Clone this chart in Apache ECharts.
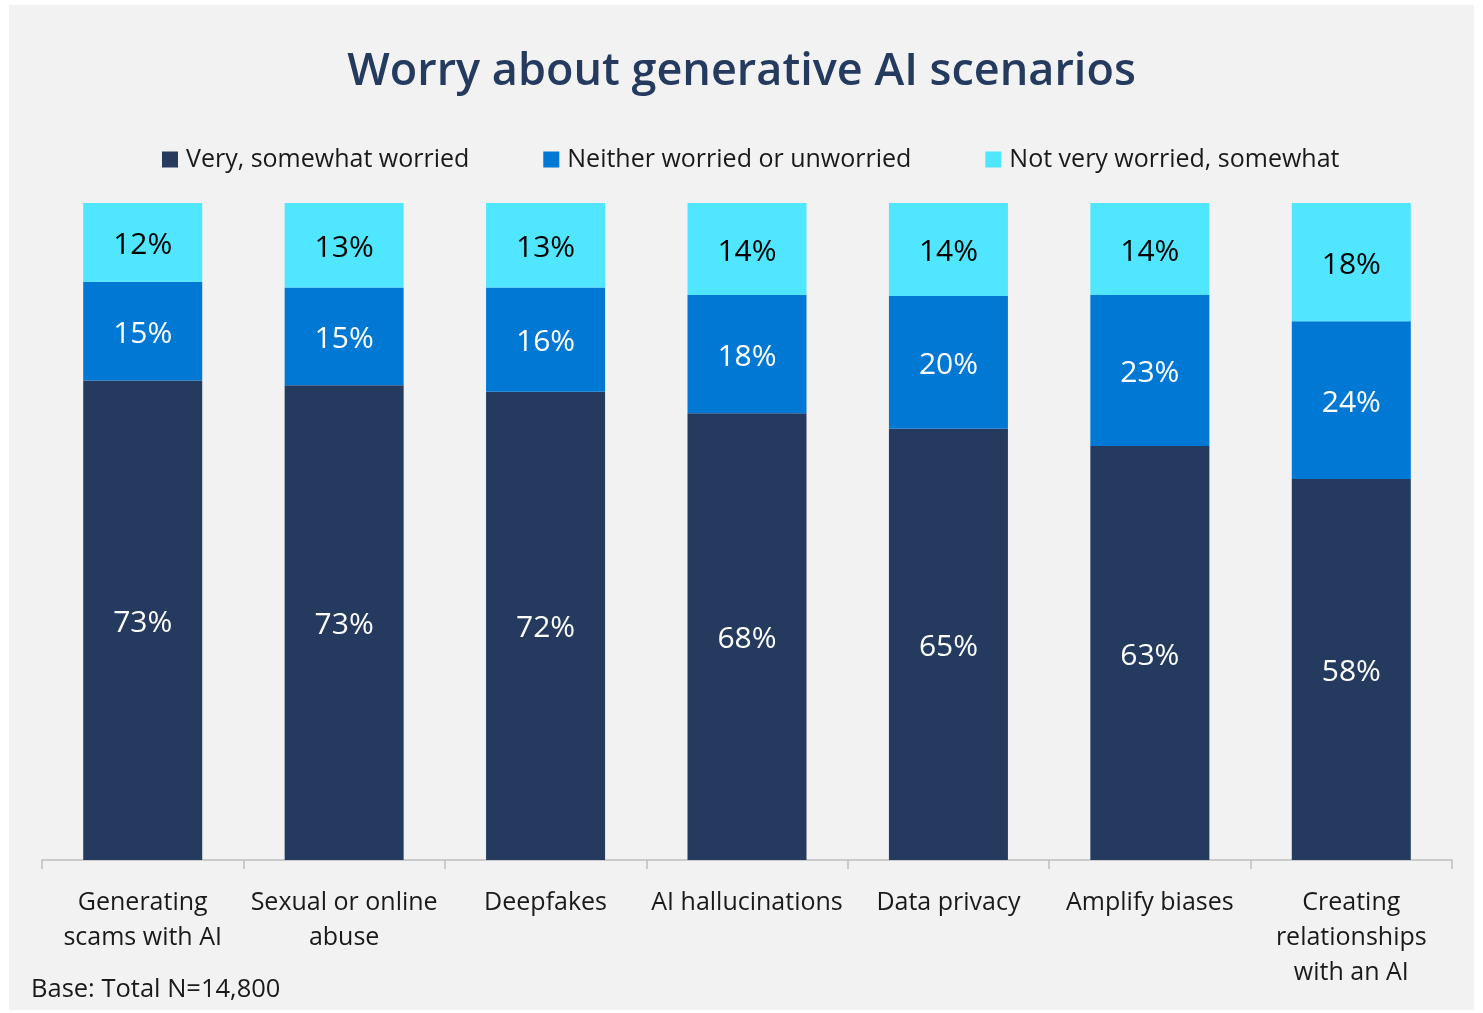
<!DOCTYPE html>
<html>
<head>
<meta charset="utf-8">
<script src="https://cdn.jsdelivr.net/npm/echarts@6/dist/echarts.min.js"></script>
<style>
  html, body { margin: 0; padding: 0; background: #fff; }
  #chart { width: 1483px; height: 1013px; }
</style>
</head>
<body>
<div id="chart"></div>
<script>
  const categories = [
    'Generating\nscams with AI',
    'Sexual or online\nabuse',
    'Deepfakes',
    'AI hallucinations',
    'Data privacy',
    'Amplify biases',
    'Creating\nrelationships\nwith an AI',
  ];
  const worried = [73, 73, 72, 68, 65, 63, 58];
  const neither = [15, 15, 16, 18, 20, 23, 24];
  const notWorried = [12, 13, 13, 14, 14, 14, 18];

  const FONT = '"Open Sans", "Noto Sans", sans-serif';
  const totals = worried.map((v, i) => v + neither[i] + notWorried[i]);

  // bars are drawn as share of each column's total, labels show the reported value
  function toShare(arr) {
    return arr.map((v, i) => ({ value: (v / totals[i]) * 100, raw: v }));
  }

  function makeSeries(name, arr, color, labelColor) {
    return {
      name: name,
      type: 'bar',
      stack: 'total',
      barWidth: 119,
      itemStyle: { color: color },
      label: {
        show: true,
        position: 'inside',
        offset: [0, 3],
        color: labelColor,
        fontFamily: FONT,
        fontSize: 30,
        formatter: (p) => p.data.raw + '%',
      },
      data: toShare(arr),
    };
  }

  const chart = echarts.init(document.getElementById('chart'));
  chart.setOption({
    backgroundColor: '#ffffff',
    animation: false,
    textStyle: { fontFamily: FONT },
    graphic: [
      {
        type: 'rect',
        z: -10,
        shape: { x: 9, y: 5, width: 1465, height: 1005 },
        style: { fill: '#f2f2f2' },
      },
      {
        type: 'text',
        left: 31,
        top: 977,
        style: {
          text: 'Base: Total N=14,800',
          font: '25.5px ' + FONT,
          fill: '#1a1a1a',
        },
      },
    ],
    title: {
      text: 'Worry about generative AI scenarios',
      left: 'center',
      top: 45,
      textStyle: {
        fontFamily: FONT,
        fontSize: 45,
        fontWeight: 600,
        color: '#243a5e',
      },
    },
    legend: {
      left: 157,
      top: 142,
      itemWidth: 16,
      itemHeight: 16,
      itemGap: 74,
      icon: 'rect',
      textStyle: { fontFamily: FONT, fontSize: 25, color: '#1a1a1a', padding: [0, 0, 0, 3] },
    },
    grid: { left: 42, right: 31, top: 203, bottom: 153 },
    xAxis: {
      type: 'category',
      data: categories,
      axisLine: { lineStyle: { color: '#bfbfbf', width: 1.5 } },
      axisTick: { show: true, length: 9, lineStyle: { color: '#bfbfbf', width: 1.5 } },
      axisLabel: {
        color: '#1a1a1a',
        fontFamily: FONT,
        fontSize: 25,
        lineHeight: 35,
        margin: 25,
        interval: 0,
      },
    },
    yAxis: {
      type: 'value',
      min: 0,
      max: 100,
      show: false,
      splitLine: { show: false },
    },
    series: [
      makeSeries('Very, somewhat worried', worried, '#243a5e', '#ffffff'),
      makeSeries('Neither worried or unworried', neither, '#0078d4', '#ffffff'),
      makeSeries('Not very worried, somewhat', notWorried, '#50e6ff', '#000000'),
    ],
  });
</script>
</body>
</html>
